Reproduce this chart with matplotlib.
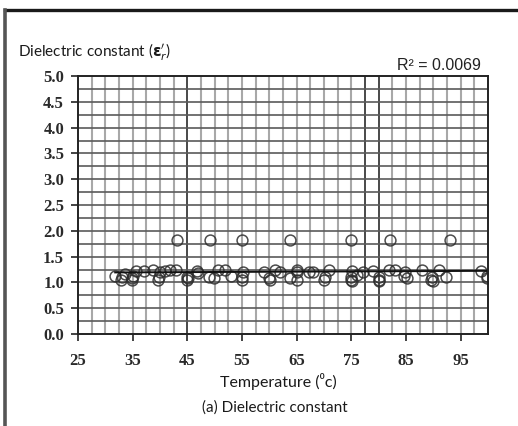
import numpy as np
import matplotlib
matplotlib.use("Agg")
import matplotlib.pyplot as plt
from matplotlib.lines import Line2D

# Measured dielectric constant vs. temperature
temperature = [31.8, 32.8, 33.0, 33.6, 34.8, 34.9, 35.1, 35.6, 37.0, 38.8, 39.7,
               39.8, 40.0, 41.0, 41.9, 43.0, 43.1, 44.9, 45.0, 45.2, 46.7, 47.0,
               49.0, 49.2, 49.8, 50.7, 51.9, 52.9, 55.0, 55.0, 55.1, 55.0, 59.0,
               59.9, 60.1, 61.0, 62.0, 63.8, 63.8, 65.0, 65.0, 65.1, 67.2, 68.0,
               70.0, 70.1, 71.0, 75.0, 75.0, 75.1, 75.0, 75.1, 76.0, 77.2, 79.0,
               80.0, 80.1, 80.0, 81.9, 82.0, 82.9, 84.7, 84.8, 85.2, 88.0, 89.5,
               89.7, 90.0, 91.0, 92.3, 93.0, 98.7, 99.8, 99.9]
dielectric = [1.12, 1.04, 1.10, 1.16, 1.08, 1.04, 1.12, 1.22, 1.23, 1.24, 1.05,
              1.10, 1.20, 1.23, 1.25, 1.24, 1.82, 1.05, 1.10, 1.08, 1.22, 1.18,
              1.10, 1.82, 1.08, 1.25, 1.24, 1.12, 1.05, 1.10, 1.21, 1.82, 1.20,
              1.08, 1.05, 1.24, 1.20, 1.08, 1.82, 1.05, 1.20, 1.25, 1.20, 1.20,
              1.05, 1.10, 1.25, 1.05, 1.10, 1.23, 1.82, 1.03, 1.15, 1.20, 1.22,
              1.05, 1.10, 1.03, 1.25, 1.82, 1.24, 1.12, 1.20, 1.08, 1.24, 1.05,
              1.10, 1.03, 1.25, 1.10, 1.82, 1.22, 1.12, 1.09]
x_ticks = [25, 35, 45, 55, 65, 75, 85, 95]
y_ticks = [0.0, 0.5, 1.0, 1.5, 2.0, 2.5, 3.0, 3.5, 4.0, 4.5, 5.0]
r2_label = "R\u00b2 = 0.0069"

fig = plt.figure(figsize=(5.18, 4.26), dpi=100)
ax = fig.add_axes([78 / 518, 1 - 334 / 426, 410 / 518, 258 / 426])

ax.set_xlim(25, 100)
ax.set_ylim(0, 5)

# grid: light verticals every 2.5, darker horizontals every 0.25
for xv in np.arange(27.5, 100, 2.5):
    dark = xv in (45.0, 77.5, 80.0)
    ax.axvline(xv, color="#3a3a3a" if dark else "#a8a8a8",
               lw=1.3 if dark else 1.5, zorder=1)
for yv in np.arange(0.25, 5.0, 0.25):
    ax.axhline(yv, color="#5a5a5a", lw=1.2, zorder=1)

x = np.array(temperature)
y = np.array(dielectric)
ax.plot(x, y, linestyle="none", marker="o", markersize=7.8,
        markerfacecolor="none", markeredgecolor="#2e2e2e",
        markeredgewidth=1.1, alpha=0.85, zorder=3)

# linear trendline over the data range
slope, intercept = np.polyfit(x, y, 1)
xs = np.array([x.min(), x.max()])
ax.plot(xs, slope * xs + intercept, color="#111111", lw=1.4, zorder=4)

for s in ax.spines.values():
    s.set_color("#222222")
    s.set_linewidth(1.4)
    s.set_zorder(5)

ax.set_xticks(x_ticks)
ax.set_yticks(y_ticks)
ax.set_xticklabels([str(t) for t in x_ticks])
ax.set_yticklabels([f"{t:.1f}" for t in y_ticks])
ax.tick_params(direction="out", length=5, width=1.2, color="#222222",
               labelsize=12, labelcolor="#2a2a2a")
ax.tick_params(axis="x", pad=9)
ax.tick_params(axis="y", pad=5)
for lab in ax.get_xticklabels() + ax.get_yticklabels():
    lab.set_family("Liberation Serif")
    lab.set_fontweight("bold")

fig.text(18 / 518, 1 - 52 / 426, "Dielectric constant ($\\boldsymbol{\\varepsilon}_r'$)",
         family=["Lato", "DejaVu Sans"], fontsize=11, color="#1a1a1a",
         ha="left", va="center")
fig.text(481 / 518, 1 - 65 / 426, r2_label, family="Liberation Sans",
         fontsize=11.5, color="#222222", ha="right", va="center")
fig.text(278 / 518, 1 - 382 / 426, "Temperature (\u2070c)",
         family=["Lato", "DejaVu Sans"], fontsize=11.5, color="#1a1a1a",
         ha="center", va="center")
fig.text(275 / 518, 1 - 408 / 426, "(a) Dielectric constant",
         family=["Lato", "DejaVu Sans"], fontsize=11, color="#1a1a1a",
         ha="center", va="center")

# outer frame: top and left edges
fig.add_artist(Line2D([5 / 518, 1.0], [1 - 10 / 426, 1 - 10 / 426],
                      transform=fig.transFigure, color="#1a1a1a", lw=2.4))
fig.add_artist(Line2D([5 / 518, 5 / 518], [1 - 10 / 426, 0.0],
                      transform=fig.transFigure, color="#555555", lw=2.6))

fig.savefig("out.png", dpi=100)
